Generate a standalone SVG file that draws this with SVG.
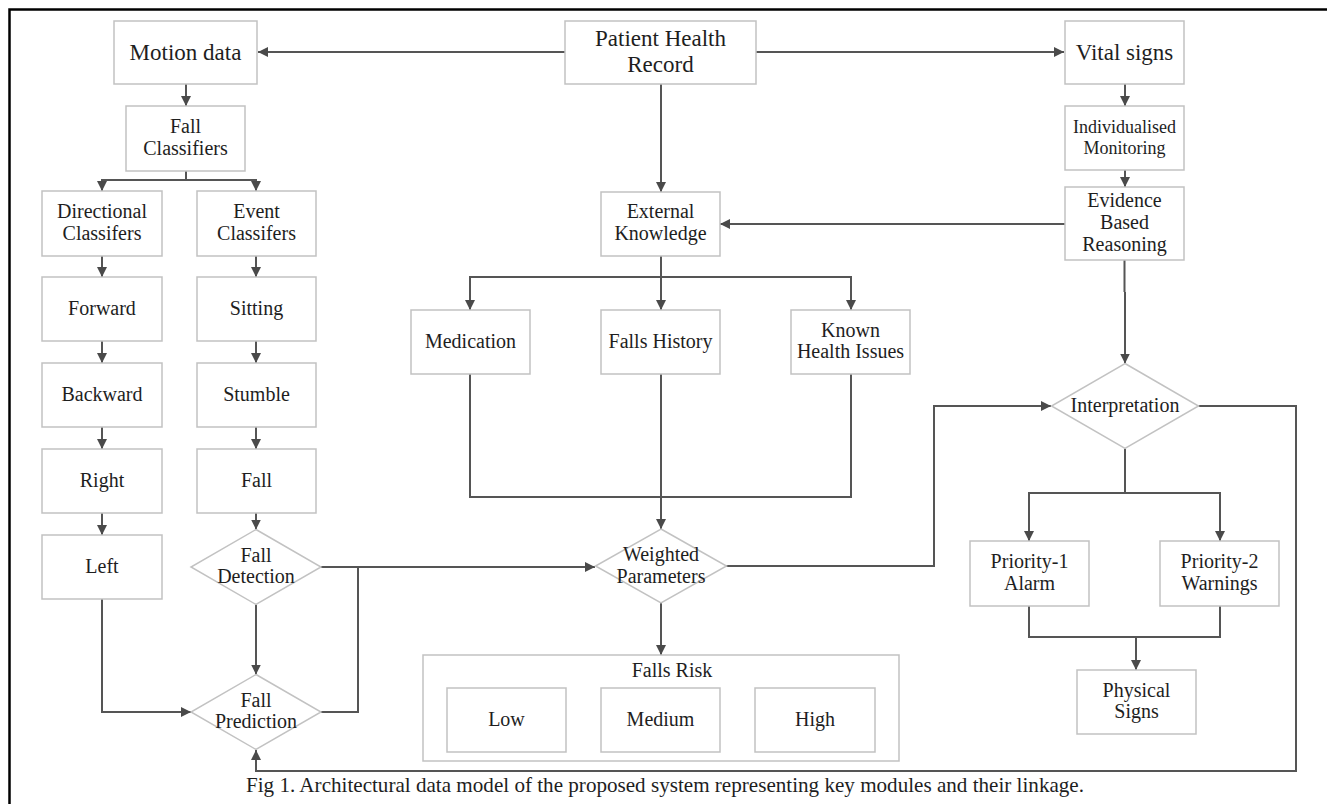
<svg xmlns="http://www.w3.org/2000/svg" width="1327" height="804" viewBox="0 0 1327 804">
<style>
.n rect,.n polygon{fill:#fff;stroke:#c2c2c2;stroke-width:1.5}
text{font-family:"Liberation Serif","Times New Roman",serif;fill:#1e1e1e;text-anchor:middle}
.t{font-size:20px}
.b{font-size:23px}
.s{font-size:18px}
.c path{fill:none;stroke:#555;stroke-width:2}
.c path.a{marker-end:url(#ah)}
</style>
<defs>
<marker id="ah" markerUnits="userSpaceOnUse" markerWidth="11" markerHeight="11" refX="10" refY="5" orient="auto">
<path d="M0,0 L10,5 L0,10 z" fill="#4a4a4a"/>
</marker>
</defs>
<rect width="1327" height="804" fill="#fff"/>
<path d="M9.5,804 V9.5 H1327" fill="none" stroke="#000" stroke-width="2.5"/>

<g class="c" id="connectors">
<path class="a" d="M565,52 H258"/>
<path class="a" d="M756,52 H1064"/>
<path class="a" d="M186,84 V106"/>
<path class="a" d="M186,171 V180 H102 V191"/>
<path class="a" d="M186,180 H256 V191"/>
<path class="a" d="M102,256 V277"/>
<path class="a" d="M102,341 V363"/>
<path class="a" d="M102,427 V449"/>
<path class="a" d="M102,513 V535"/>
<path class="a" d="M256,256 V277"/>
<path class="a" d="M256,341 V363"/>
<path class="a" d="M256,427 V449"/>
<path class="a" d="M256,513 V529.5"/>
<path class="a" d="M256,604.5 V674.5"/>
<path class="a" d="M102,599 V712 H191"/>
<path class="a" d="M321,567 H595"/>
<path d="M321,712 H358 V567"/>
<path class="a" d="M661,84 V192"/>
<path class="a" d="M1065,224 H720"/>
<path class="a" d="M661,256 V310"/>
<path class="a" d="M661,277 H470 V310"/>
<path class="a" d="M661,277 H851 V310"/>
<path d="M470,374 V497 H851 V374"/>
<path class="a" d="M661,374 V529"/>
<path class="a" d="M661,603 V655"/>
<path class="a" d="M726,566 H934 V406 H1051"/>
<path class="a" d="M1125,84 V106"/>
<path class="a" d="M1125,170 V187"/>
<path class="a" d="M1124.5,260 V292 M1125,292 V363.5"/>
<path class="a" d="M1125,448.5 V493 H1029 V541"/>
<path class="a" d="M1125,493 H1220 V541"/>
<path d="M1029,606 V637 H1220 V606"/>
<path class="a" d="M1136,637 V670"/>
<path class="a" d="M1198.5,406 H1296 V771 H256 V750"/>
</g>

<g class="n" id="motion-data"><rect x="114" y="21" width="143" height="63"/><text class="b" x="185.5" y="60">Motion data</text></g>
<g class="n" id="patient-health-record"><rect x="565" y="21" width="191" height="63"/><text class="b" x="660.5" y="46">Patient Health</text><text class="b" x="660.5" y="72">Record</text></g>
<g class="n" id="vital-signs"><rect x="1065" y="21" width="119" height="63"/><text class="b" x="1124.5" y="60">Vital signs</text></g>

<g class="n" id="fall-classifiers"><rect x="126" y="106" width="119" height="65"/><text class="t" x="185.5" y="133">Fall</text><text class="t" x="185.5" y="155">Classifiers</text></g>
<g class="n" id="directional-classifiers"><rect x="42" y="191" width="120" height="65"/><text class="t" x="102" y="218">Directional</text><text class="t" x="102" y="240">Classifers</text></g>
<g class="n" id="event-classifiers"><rect x="197" y="191" width="119" height="65"/><text class="t" x="256.5" y="218">Event</text><text class="t" x="256.5" y="240">Classifers</text></g>
<g class="n" id="forward"><rect x="42" y="277" width="120" height="64"/><text class="t" x="102" y="315">Forward</text></g>
<g class="n" id="backward"><rect x="42" y="363" width="120" height="64"/><text class="t" x="102" y="401">Backward</text></g>
<g class="n" id="right"><rect x="42" y="449" width="120" height="64"/><text class="t" x="102" y="487">Right</text></g>
<g class="n" id="left"><rect x="42" y="535" width="120" height="64"/><text class="t" x="102" y="573">Left</text></g>
<g class="n" id="sitting"><rect x="197" y="277" width="119" height="64"/><text class="t" x="256.5" y="315">Sitting</text></g>
<g class="n" id="stumble"><rect x="197" y="363" width="119" height="64"/><text class="t" x="256.5" y="401">Stumble</text></g>
<g class="n" id="fall"><rect x="197" y="449" width="119" height="64"/><text class="t" x="256.5" y="487">Fall</text></g>
<g class="n" id="fall-detection"><polygon points="256,529.5 321,567 256,604.5 191,567"/><text class="t" x="256" y="562">Fall</text><text class="t" x="256" y="583">Detection</text></g>
<g class="n" id="fall-prediction"><polygon points="256,674.5 321,712 256,749.5 191,712"/><text class="t" x="256" y="707">Fall</text><text class="t" x="256" y="728">Prediction</text></g>

<g class="n" id="external-knowledge"><rect x="601" y="192" width="119" height="64"/><text class="t" x="660.5" y="218">External</text><text class="t" x="660.5" y="240">Knowledge</text></g>
<g class="n" id="medication"><rect x="411" y="310" width="119" height="64"/><text class="t" x="470.5" y="348">Medication</text></g>
<g class="n" id="falls-history"><rect x="601" y="310" width="119" height="64"/><text class="t" x="660.5" y="348">Falls History</text></g>
<g class="n" id="known-health-issues"><rect x="791" y="310" width="119" height="64"/><text class="t" x="850.5" y="337">Known</text><text class="t" x="850.5" y="358">Health Issues</text></g>
<g class="n" id="weighted-parameters"><polygon points="661,529 726.5,566 661,603 595.5,566"/><text class="t" x="661" y="561">Weighted</text><text class="t" x="661" y="583">Parameters</text></g>
<g class="n" id="falls-risk"><rect x="423" y="655" width="476" height="106"/><text class="t" x="672" y="677">Falls Risk</text></g>
<g class="n" id="low"><rect x="447" y="688" width="119" height="64"/><text class="t" x="506.5" y="726">Low</text></g>
<g class="n" id="medium"><rect x="601" y="688" width="119" height="64"/><text class="t" x="660.5" y="726">Medium</text></g>
<g class="n" id="high"><rect x="755" y="688" width="120" height="64"/><text class="t" x="815" y="726">High</text></g>

<g class="n" id="individualised-monitoring"><rect x="1065" y="106" width="119" height="64"/><text class="s" x="1124.5" y="133">Individualised</text><text class="s" x="1124.5" y="154">Monitoring</text></g>
<g class="n" id="evidence-based-reasoning"><rect x="1065" y="187" width="119" height="73"/><text class="t" x="1124.5" y="207">Evidence</text><text class="t" x="1124.5" y="229">Based</text><text class="t" x="1124.5" y="251">Reasoning</text></g>
<g class="n" id="interpretation"><polygon points="1125,363.5 1198.5,406 1125,448.5 1051.5,406"/><text class="t" x="1125" y="412">Interpretation</text></g>
<g class="n" id="priority-1-alarm"><rect x="970" y="541" width="119" height="65"/><text class="t" x="1029.5" y="568">Priority-1</text><text class="t" x="1029.5" y="590">Alarm</text></g>
<g class="n" id="priority-2-warnings"><rect x="1160" y="541" width="119" height="65"/><text class="t" x="1219.5" y="568">Priority-2</text><text class="t" x="1219.5" y="590">Warnings</text></g>
<g class="n" id="physical-signs"><rect x="1077" y="670" width="119" height="64"/><text class="t" x="1136.5" y="697">Physical</text><text class="t" x="1136.5" y="718">Signs</text></g>

<text x="246" y="792" style="font-size:21px;text-anchor:start" textLength="838" lengthAdjust="spacingAndGlyphs">Fig 1. Architectural data model of the proposed system representing key modules and their linkage.</text>
</svg>
